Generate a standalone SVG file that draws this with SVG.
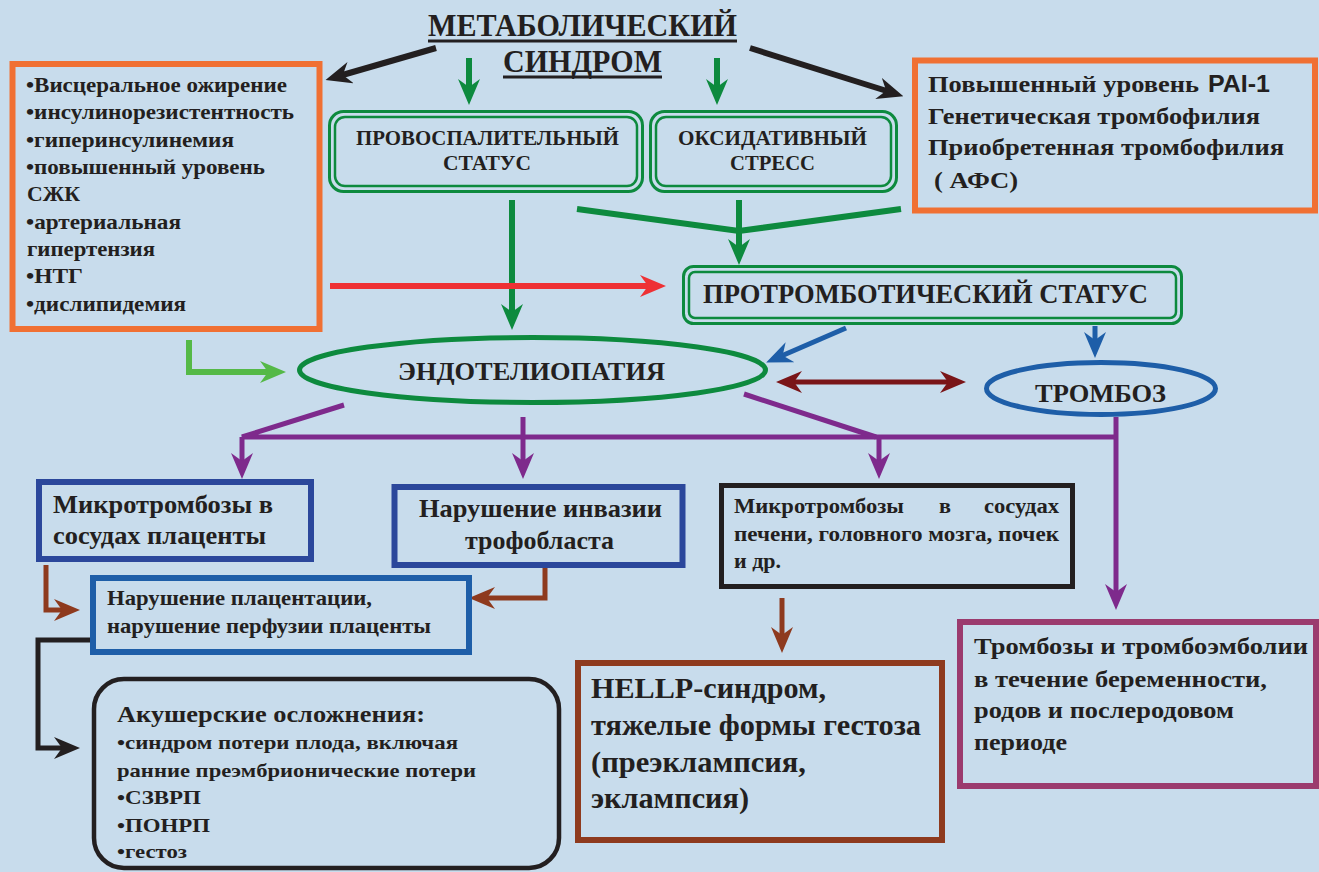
<svg xmlns="http://www.w3.org/2000/svg" width="1319" height="872" viewBox="0 0 1319 872">
<defs>
<style>
text{font-family:"Liberation Serif","Times New Roman",serif;font-weight:bold;fill:#231f20}
.sans{font-family:"Liberation Sans",Arial,sans-serif}
.c{fill:none;stroke-linejoin:miter}
.dbl{fill:none;stroke:#0d8a3e}
</style>
<marker id="mk" viewBox="0 0 26 22" markerWidth="26" markerHeight="22" refX="12" refY="11" orient="auto" markerUnits="userSpaceOnUse"><path d="M0,0 L26,11 L0,22 L8,11 Z" fill="#231f20"/></marker>
<marker id="mg" viewBox="0 0 26 22" markerWidth="26" markerHeight="22" refX="12" refY="11" orient="auto" markerUnits="userSpaceOnUse"><path d="M0,0 L26,11 L0,22 L8,11 Z" fill="#0d8a3e"/></marker>
<marker id="mr" viewBox="0 0 26 22" markerWidth="26" markerHeight="22" refX="12" refY="11" orient="auto" markerUnits="userSpaceOnUse"><path d="M0,0 L26,11 L0,22 L8,11 Z" fill="#ee3134"/></marker>
<marker id="ml" viewBox="0 0 26 22" markerWidth="26" markerHeight="22" refX="12" refY="11" orient="auto" markerUnits="userSpaceOnUse"><path d="M0,0 L26,11 L0,22 L8,11 Z" fill="#55b947"/></marker>
<marker id="mb" viewBox="0 0 26 22" markerWidth="26" markerHeight="22" refX="12" refY="11" orient="auto" markerUnits="userSpaceOnUse"><path d="M0,0 L26,11 L0,22 L8,11 Z" fill="#1e5ea8"/></marker>
<marker id="md" viewBox="0 0 26 22" markerWidth="26" markerHeight="22" refX="12" refY="11" orient="auto-start-reverse" markerUnits="userSpaceOnUse"><path d="M0,0 L26,11 L0,22 L8,11 Z" fill="#7a1518"/></marker>
<marker id="mp" viewBox="0 0 26 22" markerWidth="26" markerHeight="22" refX="12" refY="11" orient="auto" markerUnits="userSpaceOnUse"><path d="M0,0 L26,11 L0,22 L8,11 Z" fill="#7e2a8c"/></marker>
<marker id="mn" viewBox="0 0 26 22" markerWidth="26" markerHeight="22" refX="12" refY="11" orient="auto" markerUnits="userSpaceOnUse"><path d="M0,0 L26,11 L0,22 L8,11 Z" fill="#8e3a1e"/></marker>
</defs>
<rect x="0" y="0" width="1319" height="872" fill="#c8dcec"/>

<g id="title">
<text x="428" y="36" font-size="32" textLength="309" lengthAdjust="spacingAndGlyphs">МЕТАБОЛИЧЕСКИЙ</text>
<line x1="428" y1="41" x2="737" y2="41" stroke="#231f20" stroke-width="3"/>
<text x="503" y="72" font-size="32" textLength="159" lengthAdjust="spacingAndGlyphs">СИНДРОМ</text>
<line x1="503" y1="77" x2="662" y2="77" stroke="#231f20" stroke-width="3"/>
</g>

<g id="connectors">
<line x1="436" y1="48" x2="339" y2="76" stroke="#231f20" stroke-width="6" marker-end="url(#mk)"/>
<line x1="750" y1="48" x2="890" y2="92" stroke="#231f20" stroke-width="6" marker-end="url(#mk)"/>
<line x1="469" y1="58" x2="469" y2="91" stroke="#0d8a3e" stroke-width="6" marker-end="url(#mg)"/>
<line x1="717" y1="58" x2="717" y2="91" stroke="#0d8a3e" stroke-width="6" marker-end="url(#mg)"/>
<line x1="512" y1="200" x2="512" y2="316" stroke="#0d8a3e" stroke-width="6" marker-end="url(#mg)"/>
<path class="c" d="M577,209 L739,231 L901,209" stroke="#0d8a3e" stroke-width="6"/>
<line x1="739" y1="200" x2="739" y2="251" stroke="#0d8a3e" stroke-width="6" marker-end="url(#mg)"/>
<line x1="330" y1="286" x2="652" y2="286" stroke="#ee3134" stroke-width="6" marker-end="url(#mr)"/>
<path class="c" d="M189,340 V372 H272" stroke="#55b947" stroke-width="6" marker-end="url(#ml)"/>
<line x1="846" y1="328" x2="779" y2="357" stroke="#1e5ea8" stroke-width="5" marker-end="url(#mb)"/>
<line x1="1095" y1="326" x2="1095" y2="344" stroke="#1e5ea8" stroke-width="5" marker-end="url(#mb)"/>
<line x1="790" y1="382" x2="952" y2="382" stroke="#7a1518" stroke-width="5" marker-start="url(#md)" marker-end="url(#md)"/>
<path class="c" d="M344,405 L242,437 H1116" stroke="#7e2a8c" stroke-width="5"/>
<path class="c" d="M744,394 L876,437" stroke="#7e2a8c" stroke-width="5"/>
<line x1="242" y1="437" x2="242" y2="465" stroke="#7e2a8c" stroke-width="5" marker-end="url(#mp)"/>
<line x1="523" y1="417" x2="523" y2="465" stroke="#7e2a8c" stroke-width="5" marker-end="url(#mp)"/>
<line x1="879" y1="437" x2="879" y2="465" stroke="#7e2a8c" stroke-width="5" marker-end="url(#mp)"/>
<line x1="1116" y1="417" x2="1116" y2="596" stroke="#7e2a8c" stroke-width="5" marker-end="url(#mp)"/>
<path class="c" d="M46,565 V610 H66" stroke="#8e3a1e" stroke-width="5" marker-end="url(#mn)"/>
<path class="c" d="M545,567 V598 H483" stroke="#8e3a1e" stroke-width="5" marker-end="url(#mn)"/>
<path class="c" d="M92,640 H38 V748 H66" stroke="#231f20" stroke-width="5" marker-end="url(#mk)"/>
<line x1="782" y1="598" x2="782" y2="639" stroke="#8e3a1e" stroke-width="5" marker-end="url(#mn)"/>
</g>

<g id="risk-factors">
<rect x="12.5" y="64" width="307" height="265" fill="none" stroke="#f07033" stroke-width="6"/>
<text x="26" y="92" font-size="21" textLength="261" lengthAdjust="spacingAndGlyphs">•Висцеральное ожирение</text>
<text x="26" y="119" font-size="21" textLength="268" lengthAdjust="spacingAndGlyphs">•инсулинорезистентность</text>
<text x="26" y="147" font-size="21" textLength="208" lengthAdjust="spacingAndGlyphs">•гиперинсулинемия</text>
<text x="26" y="174" font-size="21" textLength="239" lengthAdjust="spacingAndGlyphs">•повышенный уровень</text>
<text x="27" y="201" font-size="21" textLength="53" lengthAdjust="spacingAndGlyphs">СЖК</text>
<text x="26" y="229" font-size="21" textLength="155" lengthAdjust="spacingAndGlyphs">•артериальная</text>
<text x="27" y="256" font-size="21" textLength="128" lengthAdjust="spacingAndGlyphs">гипертензия</text>
<text x="26" y="283" font-size="21" textLength="57" lengthAdjust="spacingAndGlyphs">•НТГ</text>
<text x="26" y="311" font-size="21" textLength="160" lengthAdjust="spacingAndGlyphs">•дислипидемия</text>
</g>

<g id="pro-inflammatory">
<rect class="dbl" x="329.5" y="111.5" width="313" height="80" rx="14" stroke-width="3"/>
<rect class="dbl" x="335" y="117" width="302" height="69" rx="10" stroke-width="2.5"/>
<text x="356" y="145" font-size="21" textLength="263" lengthAdjust="spacingAndGlyphs">ПРОВОСПАЛИТЕЛЬНЫЙ</text>
<text x="443" y="170" font-size="21" textLength="88" lengthAdjust="spacingAndGlyphs">СТАТУС</text>
</g>

<g id="oxidative">
<rect class="dbl" x="650.5" y="111.5" width="246" height="80" rx="14" stroke-width="3"/>
<rect class="dbl" x="656" y="117" width="235" height="69" rx="10" stroke-width="2.5"/>
<text x="678" y="145" font-size="21" textLength="189" lengthAdjust="spacingAndGlyphs">ОКСИДАТИВНЫЙ</text>
<text x="730" y="170" font-size="21" textLength="85" lengthAdjust="spacingAndGlyphs">СТРЕСС</text>
</g>

<g id="thrombophilia">
<rect x="915" y="60.5" width="400" height="150" fill="none" stroke="#f07033" stroke-width="6"/>
<text x="928" y="92" font-size="24" textLength="271" lengthAdjust="spacingAndGlyphs">Повышенный уровень</text>
<text class="sans" x="1208" y="92" font-size="23" textLength="62" lengthAdjust="spacingAndGlyphs">PAI-1</text>
<text x="928" y="124" font-size="24" textLength="332" lengthAdjust="spacingAndGlyphs">Генетическая тромбофилия</text>
<text x="928" y="155" font-size="24" textLength="356" lengthAdjust="spacingAndGlyphs">Приобретенная тромбофилия</text>
<text x="934" y="188" font-size="24" textLength="84" lengthAdjust="spacingAndGlyphs">( АФС)</text>
</g>

<g id="prothrombotic">
<rect class="dbl" x="683.5" y="266.5" width="498" height="57" rx="10" stroke-width="3"/>
<rect class="dbl" x="689" y="272" width="487" height="46" rx="6" stroke-width="2.5"/>
<text x="703" y="303" font-size="27" textLength="445" lengthAdjust="spacingAndGlyphs">ПРОТРОМБОТИЧЕСКИЙ СТАТУС</text>
</g>

<g id="endotheliopathy">
<ellipse cx="532.5" cy="370" rx="233" ry="32.5" fill="none" stroke="#0d8a3e" stroke-width="5"/>
<text x="398" y="380" font-size="26" textLength="267" lengthAdjust="spacingAndGlyphs">ЭНДОТЕЛИОПАТИЯ</text>
</g>

<g id="thrombosis">
<ellipse cx="1101" cy="388.5" rx="114.5" ry="26" fill="none" stroke="#1e5ea8" stroke-width="5"/>
<text x="1035" y="402" font-size="26" textLength="131" lengthAdjust="spacingAndGlyphs">ТРОМБОЗ</text>
</g>

<g id="placental-microthrombosis">
<rect x="39" y="482" width="272" height="77" fill="none" stroke="#2b479b" stroke-width="6"/>
<text x="53" y="513" font-size="25" textLength="220" lengthAdjust="spacingAndGlyphs">Микротромбозы в</text>
<text x="53" y="544" font-size="25" textLength="213" lengthAdjust="spacingAndGlyphs">сосудах плаценты</text>
</g>

<g id="trophoblast">
<rect x="394.5" y="487" width="288" height="78" fill="none" stroke="#2b479b" stroke-width="6"/>
<text x="419" y="517" font-size="25" textLength="243" lengthAdjust="spacingAndGlyphs">Нарушение инвазии</text>
<text x="465" y="549" font-size="25" textLength="149" lengthAdjust="spacingAndGlyphs">трофобласта</text>
</g>

<g id="organ-microthrombosis">
<rect x="721.5" y="485.5" width="351" height="101" fill="none" stroke="#231f20" stroke-width="5"/>
<text x="734" y="513" font-size="20" textLength="170" lengthAdjust="spacingAndGlyphs">Микротромбозы</text>
<text x="939" y="513" font-size="20" textLength="12" lengthAdjust="spacingAndGlyphs">в</text>
<text x="984" y="513" font-size="20" textLength="75" lengthAdjust="spacingAndGlyphs">сосудах</text>
<text x="734" y="541" font-size="20" textLength="325" lengthAdjust="spacingAndGlyphs">печени, головного мозга, почек</text>
<text x="734" y="568" font-size="20" textLength="47" lengthAdjust="spacingAndGlyphs">и др.</text>
</g>

<g id="placentation">
<rect x="93" y="578" width="376" height="74" fill="none" stroke="#1e5ea8" stroke-width="6"/>
<text x="107" y="605" font-size="21" textLength="265" lengthAdjust="spacingAndGlyphs">Нарушение плацентации,</text>
<text x="107" y="633" font-size="21" textLength="324" lengthAdjust="spacingAndGlyphs">нарушение перфузии плаценты</text>
</g>

<g id="obstetric">
<rect x="94" y="679" width="465" height="189" rx="30" fill="none" stroke="#231f20" stroke-width="4.5"/>
<text x="117" y="722" font-size="24" textLength="308" lengthAdjust="spacingAndGlyphs">Акушерские осложнения:</text>
<text x="117" y="749" font-size="19" textLength="341" lengthAdjust="spacingAndGlyphs">•синдром потери плода, включая</text>
<text x="117" y="777" font-size="19" textLength="359" lengthAdjust="spacingAndGlyphs">ранние преэмбрионические потери</text>
<text x="117" y="804" font-size="19" textLength="84" lengthAdjust="spacingAndGlyphs">•СЗВРП</text>
<text x="117" y="832" font-size="19" textLength="93" lengthAdjust="spacingAndGlyphs">•ПОНРП</text>
<text x="117" y="858" font-size="19" textLength="70" lengthAdjust="spacingAndGlyphs">•гестоз</text>
</g>

<g id="hellp">
<rect x="578" y="663" width="364" height="177" fill="none" stroke="#8e3a1e" stroke-width="6"/>
<text x="591" y="698" font-size="29" textLength="235" lengthAdjust="spacingAndGlyphs">HELLP-синдром,</text>
<text x="591" y="735" font-size="29" textLength="330" lengthAdjust="spacingAndGlyphs">тяжелые формы гестоза</text>
<text x="591" y="772" font-size="29" textLength="215" lengthAdjust="spacingAndGlyphs">(преэклампсия,</text>
<text x="591" y="808" font-size="29" textLength="158" lengthAdjust="spacingAndGlyphs">эклампсия)</text>
</g>

<g id="thromboembolism">
<rect x="960" y="622" width="356" height="164" fill="none" stroke="#9b3b6e" stroke-width="6"/>
<text x="974" y="654" font-size="24" textLength="334" lengthAdjust="spacingAndGlyphs">Тромбозы и тромбоэмболии</text>
<text x="974" y="687" font-size="24" textLength="293" lengthAdjust="spacingAndGlyphs">в течение беременности,</text>
<text x="974" y="718" font-size="24" textLength="260" lengthAdjust="spacingAndGlyphs">родов и послеродовом</text>
<text x="974" y="750" font-size="24" textLength="93" lengthAdjust="spacingAndGlyphs">периоде</text>
</g>
</svg>
